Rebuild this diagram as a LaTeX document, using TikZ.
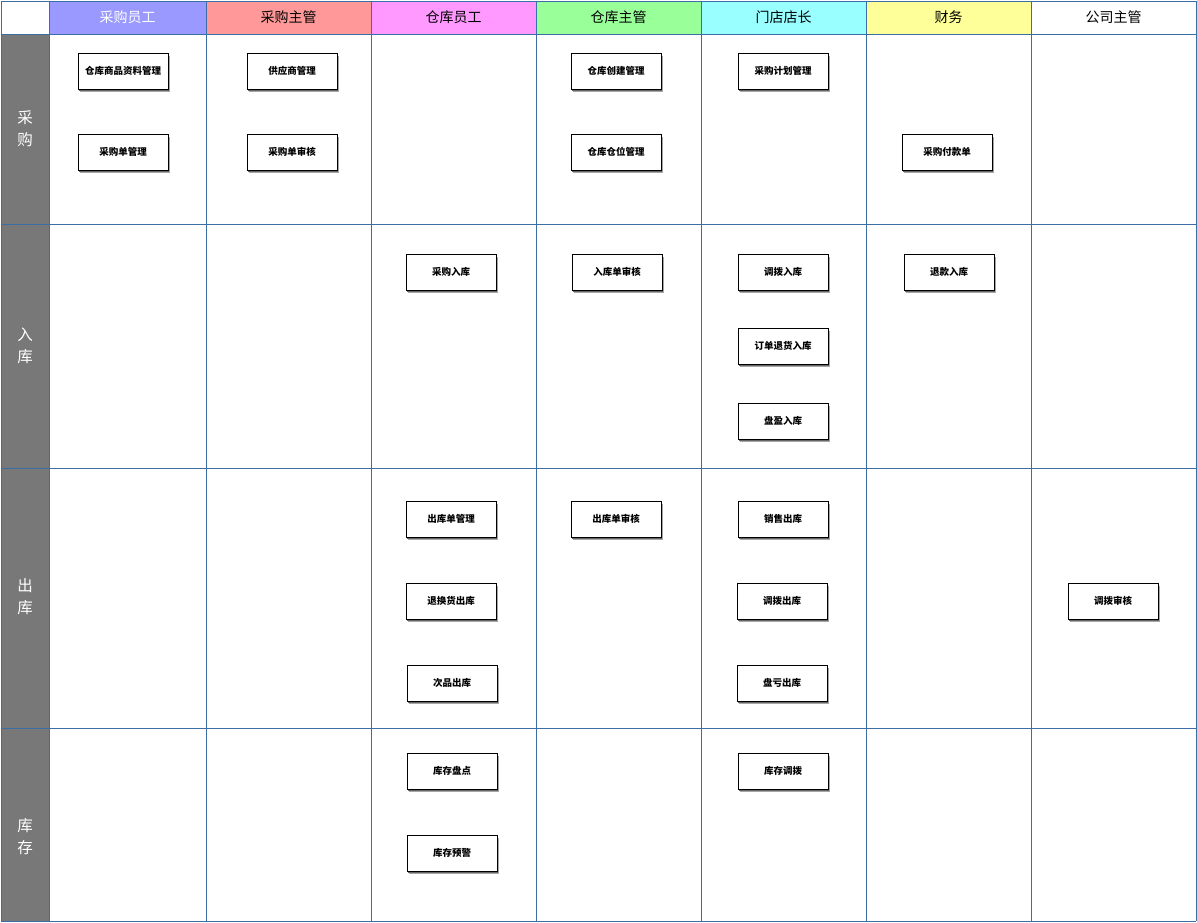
\documentclass[tikz,border=0pt]{standalone}
\usepackage{fontspec}
\setmainfont{Noto Sans CJK SC}
\usetikzlibrary{shadows}
\definecolor{gridc}{RGB}{58,110,165}
\definecolor{hA}{RGB}{153,153,255}
\definecolor{hB}{RGB}{255,153,153}
\definecolor{hC}{RGB}{255,153,255}
\definecolor{hD}{RGB}{153,255,153}
\definecolor{hE}{RGB}{153,255,255}
\definecolor{hF}{RGB}{255,255,153}
\definecolor{lanegray}{RGB}{120,120,120}
\tikzset{
  hdr/.style={inner sep=0pt, font=\fontsize{14}{16}\selectfont},
  lanelabel/.style={inner sep=0pt, text=white, align=center, font=\fontsize{15.5}{22}\selectfont},
  taskbox/.style={draw=black, line width=0.9pt, fill=white, minimum width=90pt, minimum height=36pt, inner sep=0pt,
    font=\bfseries\fontsize{9.5}{11}\selectfont,
    preaction={fill=black!35, draw=none, transform canvas={xshift=1.8pt, yshift=-3pt}},
    preaction={fill=black!60, draw=none, transform canvas={xshift=1.2pt, yshift=-2pt}}},
  gridline/.style={draw=gridc, line width=1pt}
}
\begin{document}
\begin{tikzpicture}[x=1pt,y=-1pt]
\useasboundingbox (0,0) rectangle (1197,922);
% header fills
\fill[white] (1,1) rectangle (49,34);
\fill[hA] (49,1) rectangle (206,34);
\fill[hB] (206,1) rectangle (371,34);
\fill[hC] (371,1) rectangle (536,34);
\fill[hD] (536,1) rectangle (701,34);
\fill[hE] (701,1) rectangle (866,34);
\fill[hF] (866,1) rectangle (1031,34);
\fill[white] (1031,1) rectangle (1196,34);
% lane column
\fill[lanegray] (1,34) rectangle (49,921);
% grid
\foreach \x in {1,49,206,371,536,701,866,1031,1196} \draw[gridline] (\x,1) -- (\x,921);
\foreach \y in {1,34,224,468,728,921} \draw[gridline] (1,\y) -- (1196,\y);
% headers
\node[hdr, text=white] (h1) at (127.5,17.5) {采购员工};
\node[hdr] (h2) at (288.5,17.5) {采购主管};
\node[hdr] (h3) at (453.5,17.5) {仓库员工};
\node[hdr] (h4) at (618.5,17.5) {仓库主管};
\node[hdr] (h5) at (783.5,17.5) {门店店长};
\node[hdr] (h6) at (948.5,17.5) {财务};
\node[hdr] (h7) at (1113.5,17.5) {公司主管};
% lane labels
\node[lanelabel] (l1) at (25,129) {采\\购};
\node[lanelabel] (l2) at (25,346) {入\\库};
\node[lanelabel] (l3) at (25,597) {出\\库};
\node[lanelabel] (l4) at (25,837) {库\\存};
% row 1: 采购
\node[taskbox] (b1) at (123,71) {仓库商品资料管理};
\node[taskbox] (b2) at (123,152) {采购单管理};
\node[taskbox] (b3) at (292,71) {供应商管理};
\node[taskbox] (b4) at (292,152) {采购单审核};
\node[taskbox] (b5) at (616,71) {仓库创建管理};
\node[taskbox] (b6) at (616,152) {仓库仓位管理};
\node[taskbox] (b7) at (783,71) {采购计划管理};
\node[taskbox] (b8) at (947,152) {采购付款单};
% row 2: 入库
\node[taskbox] (c1) at (451,272) {采购入库};
\node[taskbox] (c2) at (617,272) {入库单审核};
\node[taskbox] (c3) at (783,272) {调拨入库};
\node[taskbox] (c4) at (783,346) {订单退货入库};
\node[taskbox] (c5) at (783,421) {盘盈入库};
\node[taskbox] (c6) at (949,272) {退款入库};
% row 3: 出库
\node[taskbox] (d1) at (451,519) {出库单管理};
\node[taskbox] (d2) at (451,601) {退换货出库};
\node[taskbox] (d3) at (452,683) {次品出库};
\node[taskbox] (d4) at (616,519) {出库单审核};
\node[taskbox] (d5) at (783,519) {销售出库};
\node[taskbox] (d6) at (782,601) {调拨出库};
\node[taskbox] (d7) at (782,683) {盘亏出库};
\node[taskbox] (d8) at (1113,601) {调拨审核};
% row 4: 库存
\node[taskbox] (e1) at (452,771) {库存盘点};
\node[taskbox] (e2) at (452,853) {库存预警};
\node[taskbox] (e3) at (783,771) {库存调拨};
\end{tikzpicture}
\end{document}
